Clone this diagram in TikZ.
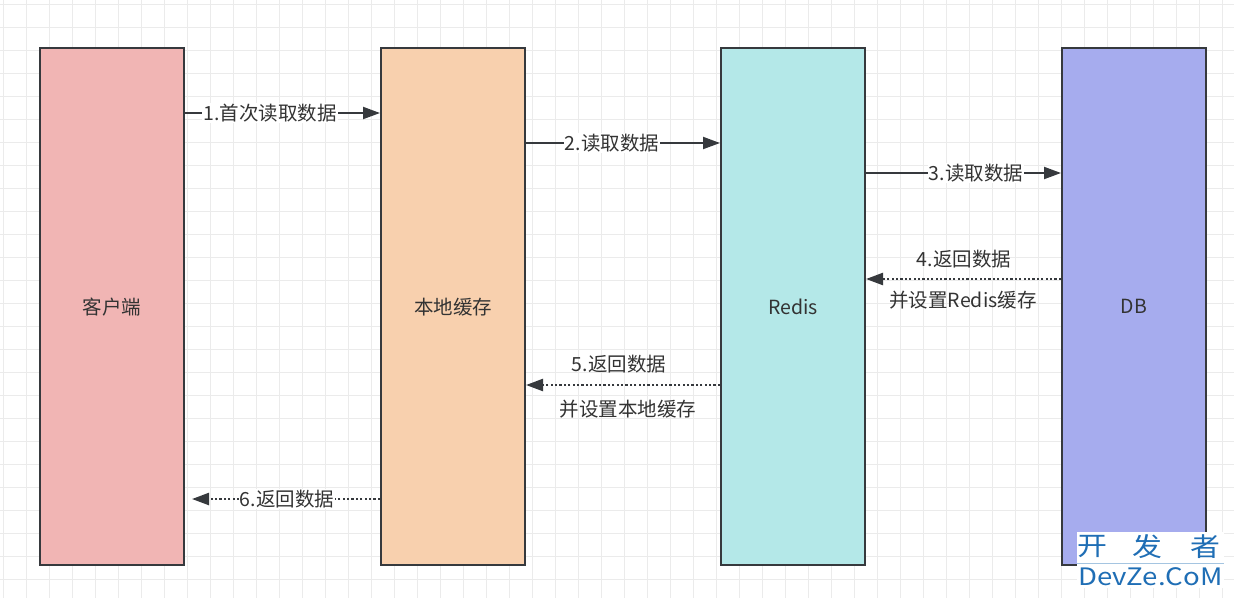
\documentclass[tikz,border=0pt]{standalone}
\usepackage{fontspec}
\newfontfamily\cjk{Noto Sans CJK SC}
\usetikzlibrary{arrows.meta}
\definecolor{gridc}{HTML}{EBEBEB}
\definecolor{edgec}{HTML}{36393D}
\definecolor{txtc}{HTML}{333333}
\definecolor{cA}{HTML}{F1B5B4}
\definecolor{cB}{HTML}{F8D0AE}
\definecolor{cC}{HTML}{B4E8E8}
\definecolor{cD}{HTML}{A6ACEE}
\definecolor{wm}{HTML}{1F6EB5}
\tikzset{
  lane/.style={draw=edgec, line width=2pt, minimum width=144pt, minimum height=517pt, inner sep=0pt, font=\cjk\fontsize{19.5}{22}\selectfont, text=txtc},
  lbl/.style={font=\cjk\fontsize{19.5}{22}\selectfont, text=txtc, inner sep=1pt},
  lblw/.style={lbl, fill=white},
  call/.style={draw=edgec, line width=2pt, -{Triangle[length=17pt,width=12pt]}},
  ret/.style={call, line width=2.3pt, dash pattern=on 2.2pt off 2.2pt},
}
\begin{document}
\begin{tikzpicture}[x=1pt,y=-1pt]
\useasboundingbox (0,0) rectangle (1234,598);
\fill[white] (0,0) rectangle (1234,598);
\foreach \i in {0,...,53} {\draw[gridc, line width=1pt] (3+23*\i,0) -- (3+23*\i,598);}
\foreach \j in {0,...,25} {\draw[gridc, line width=1pt] (0,4+23*\j) -- (1234,4+23*\j);}

\node[lane, fill=cA, text depth=-3pt] (client) at (112,306.5) {客户端};
\node[lane, fill=cB, text depth=-3pt] (local) at (453,306.5) {本地缓存};
\node[lane, fill=cC, text depth=-3pt] (redis) at (793,306.5) {Redis};
\node[lane, fill=cD, text depth=-3pt] (db) at (1134,306.5) {DB};

% 1
\draw[call] (client.east |- 0,113) -- (local.west |- 0,113);
\node[lblw] (l1) at (270,113) {1.首次读取数据};
% 2
\draw[call] (local.east |- 0,143) -- (redis.west |- 0,143);
\node[lblw] (l2) at (612,143) {2.读取数据};
% 3
\draw[call] (redis.east |- 0,173) -- (db.west |- 0,173);
\node[lblw] (l3) at (976,173) {3.读取数据};
% 4
\draw[ret] (db.west |- 0,279) -- (redis.east |- 0,279);
\node[lbl] (l4a) at (964,259) {4.返回数据};
\node[lbl] (l4b) at (963,300) {并设置Redis缓存};
% 5
\draw[ret] (redis.west |- 0,385) -- (local.east |- 0,385);
\node[lbl] (l5a) at (619,364) {5.返回数据};
\node[lbl] (l5b) at (628,409) {并设置本地缓存};
% 6
\coordinate (c6) at (192,499);
\draw[ret] (local.west |- 0,499) -- (c6);
\node[lblw] (l6) at (287,499) {6.返回数据};

% watermark
\fill[white] (1077,532) rectangle (1224,588);
\draw[wm!40, line width=0.8pt] (1077,563.5) -- (1224,563.5);
\node[font=\cjk\fontsize{26}{26}\selectfont, text=wm, inner sep=0pt, xscale=1.15] (w1) at (1092,547) {开};
\node[font=\cjk\fontsize{26}{26}\selectfont, text=wm, inner sep=0pt, xscale=1.15] (w2) at (1147,547) {发};
\node[font=\cjk\fontsize{26}{26}\selectfont, text=wm, inner sep=0pt, xscale=1.15] (w3) at (1205,547) {者};
\node[font=\cjk\fontsize{24}{24}\selectfont, text=wm, inner sep=0pt, xscale=1.15, anchor=base] (w4) at (1150.5,585) {DevZe.CoM};
\end{tikzpicture}
\end{document}
